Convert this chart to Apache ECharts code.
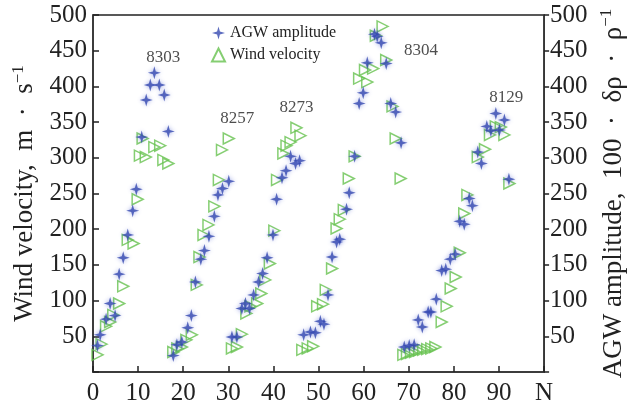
<!DOCTYPE html>
<html>
<head>
<meta charset="utf-8">
<script src="https://cdn.jsdelivr.net/npm/echarts@6/dist/echarts.min.js"></script>
<style>
  html, body { margin: 0; padding: 0; background: #fff; }
  #chart { width: 635px; height: 406px; }
</style>
</head>
<body>
<div id="chart"></div>
<script>
  // AGW amplitude (blue stars): N and value
  const agwN = [1.0, 1.6, 2.9, 3.8, 4.9, 5.8, 6.7, 7.7, 8.8, 9.6, 10.8, 11.8, 12.7, 13.6, 14.7, 15.8, 16.7,
    17.8, 18.6, 19.7, 21.0, 21.8, 22.7, 23.9, 24.7, 25.7, 26.9, 27.7, 28.7, 30.1,
    30.8, 31.9, 33.0, 33.8, 34.7, 35.6, 36.7, 37.6, 38.6, 39.9, 40.7, 41.9, 42.8, 43.8, 44.9, 45.8,
    46.7, 48.2, 49.3, 50.4, 51.2, 52.1, 53.0, 54.0, 54.7, 56.2, 56.8, 58.0, 59.0, 59.9, 60.8, 62.4, 63.0, 63.9, 65.0, 66.0, 67.1, 68.3,
    69.0, 70.1, 71.2, 72.1, 73.0, 74.3, 74.9, 76.1, 77.3, 78.2, 79.2, 80.3, 81.3, 82.3, 83.4, 84.1,
    85.3, 86.1, 87.3, 88.2, 89.3, 90.1, 91.2, 92.2]
  const agwV = [37, 52, 74, 96, 79, 137, 160, 192, 226, 256, 329, 381, 402, 419, 402, 388, 337,
    23, 38, 42, 62, 79, 126, 158, 170, 190, 218, 248, 257, 267,
    49, 49, 89, 96, 89, 108, 126, 138, 160, 192, 242, 272, 282, 302, 292, 296,
    52, 56, 55, 71, 67, 108, 161, 182, 186, 228, 251, 302, 376, 391, 433, 473, 470, 461, 432, 376, 364, 321,
    35, 37, 38, 73, 63, 84, 84, 102, 142, 144, 158, 165, 211, 207, 243, 233,
    308, 292, 344, 338, 362, 339, 353, 270]

  // Wind velocity (green triangles): N and value
  const windN = [1.0, 1.9, 2.9, 3.8, 4.5, 5.8, 6.7, 7.7, 9.0, 9.9, 10.4, 11.0, 11.7, 13.6, 14.9, 15.6, 16.7,
    17.8, 18.7, 19.7, 20.7, 21.9, 23.0, 23.6, 24.5, 25.6, 26.9, 27.9, 28.6, 30.1,
    30.8, 31.9, 33.0, 34.0, 34.9, 36.4, 37.3, 38.2, 39.2, 40.2, 40.8, 42.2, 42.9, 43.8, 45.1, 46.0,
    46.4, 47.6, 48.8, 49.7, 51.0, 51.6, 53.0, 54.0, 54.7, 55.6, 56.7, 58.0, 59.0, 60.3, 60.8, 62.1, 62.7, 64.2, 65.0, 66.4, 67.1, 68.2,
    68.8, 69.6, 70.5, 71.4, 72.3, 73.2, 74.1, 75.0, 75.9, 77.3, 78.4, 79.3, 80.4, 81.3, 82.3, 83.0,
    85.3, 86.9, 88.0, 89.3, 90.4, 91.2, 92.3]
  const windV = [24, 39, 64, 70, 80, 96, 120, 185, 180, 242, 303, 327, 301, 315, 317, 297, 292,
    28, 33, 35, 45, 52, 122, 161, 192, 206, 232, 269, 311, 327,
    33, 35, 53, 82, 92, 96, 110, 129, 152, 198, 269, 306, 317, 322, 342, 331,
    31, 33, 36, 92, 95, 115, 145, 201, 214, 227, 271, 302, 411, 423, 406, 425, 471, 484, 437, 372, 327, 271,
    24, 25, 27, 28, 30, 31, 32, 33, 35, 70, 92, 117, 133, 167, 222, 248,
    301, 312, 332, 344, 343, 332, 264]

  // flight labels
  const annoText = ['8303', '8257', '8273', '8304', '8129']
  const annoN = [15.6, 32.0, 45.1, 72.7, 91.6]
  const annoV = [440, 355, 371, 450, 384]

  const xTicks = [0, 10, 20, 30, 40, 50, 60, 70, 80, 90, 'N']

  const serif = 'Liberation Serif'
  const starPath = 'path://M0,-10 L2.2,-2.2 L10,0 L2.2,2.2 L0,10 L-2.2,2.2 L-10,0 L-2.2,-2.2 Z'

  const chart = echarts.init(document.getElementById('chart'))

  // axis title style with superscript
  const nameRich = {
    a: { fontFamily: serif, fontSize: 27, color: '#222', lineHeight: 30 },
    s: { fontFamily: serif, fontSize: 17, color: '#222', verticalAlign: 'top', lineHeight: 18 }
  }

  const yAxisBase = {
    type: 'value',
    min: 0,
    max: 500,
    interval: 50,
    splitLine: { show: false },
    axisLine: { show: true, lineStyle: { color: '#333', width: 1.5 } },
    axisLabel: {
      color: '#222', fontFamily: serif, fontSize: 25, margin: 6,
      formatter: v => (v === 0 ? '' : v)
    },
    nameLocation: 'middle',
    nameRotate: 90,
    nameTextStyle: { rich: nameRich }
  }

  const option = {
    animation: false,
    backgroundColor: '#fff',
    textStyle: { fontFamily: serif },
    grid: {
      left: 93, right: 90, top: 15, bottom: 34,
      show: true, borderColor: '#222', borderWidth: 1.5
    },
    legend: {
      orient: 'vertical',
      left: 206,
      top: 20,
      itemWidth: 13,
      itemHeight: 13,
      itemGap: 6,
      textStyle: { fontFamily: serif, fontSize: 16, color: '#222' },
      data: ['AGW amplitude', 'Wind velocity']
    },
    xAxis: {
      type: 'value',
      min: 0,
      max: 100,
      interval: 10,
      splitLine: { show: false },
      axisLine: { lineStyle: { color: '#333', width: 1.5 } },
      axisTick: { inside: true, length: 6, lineStyle: { color: '#222', width: 1.5 } },
      axisLabel: {
        color: '#222', fontFamily: serif, fontSize: 25, margin: 9,
        formatter: v => xTicks[Math.round(v / 10)]
      }
    },
    yAxis: [
      Object.assign({}, yAxisBase, {
        position: 'left',
        axisTick: { inside: true, length: 6, lineStyle: { color: '#222', width: 1.5 } },
        name: '{a|Wind velocity,  m  ·  s}{s|−1}',
        nameGap: 48
      }),
      Object.assign({}, yAxisBase, {
        position: 'right',
        axisTick: { inside: false, length: 5, lineStyle: { color: '#222', width: 1.5 } },
        name: '{a|AGW amplitude,  100  ·  δρ  ·  ρ}{s|−1}',
        nameGap: 54
      })
    ],
    series: [
      {
        name: 'Wind velocity',
        type: 'scatter',
        symbol: 'triangle',
        symbolRotate: -90,
        symbolSize: 11,
        itemStyle: { color: 'rgba(0,0,0,0)', borderColor: '#66c24f', borderWidth: 1.5 },
        data: windN.map((n, i) => [n, windV[i]]),
        z: 2
      },
      {
        name: 'AGW amplitude',
        type: 'scatter',
        symbol: starPath,
        symbolSize: 13,
        itemStyle: { color: '#3549b0', shadowBlur: 4, shadowColor: 'rgba(60,80,200,0.6)' },
        data: agwN.map((n, i) => [n, agwV[i]]),
        z: 3
      },
      {
        name: 'labels',
        type: 'scatter',
        symbolSize: 0,
        silent: true,
        label: {
          show: true,
          position: 'inside',
          fontFamily: serif,
          fontSize: 17,
          color: '#222',
          formatter: p => annoText[p.dataIndex]
        },
        data: annoN.map((n, i) => [n, annoV[i]])
      }
    ]
  }

  chart.setOption(option)
</script>
</body>
</html>
